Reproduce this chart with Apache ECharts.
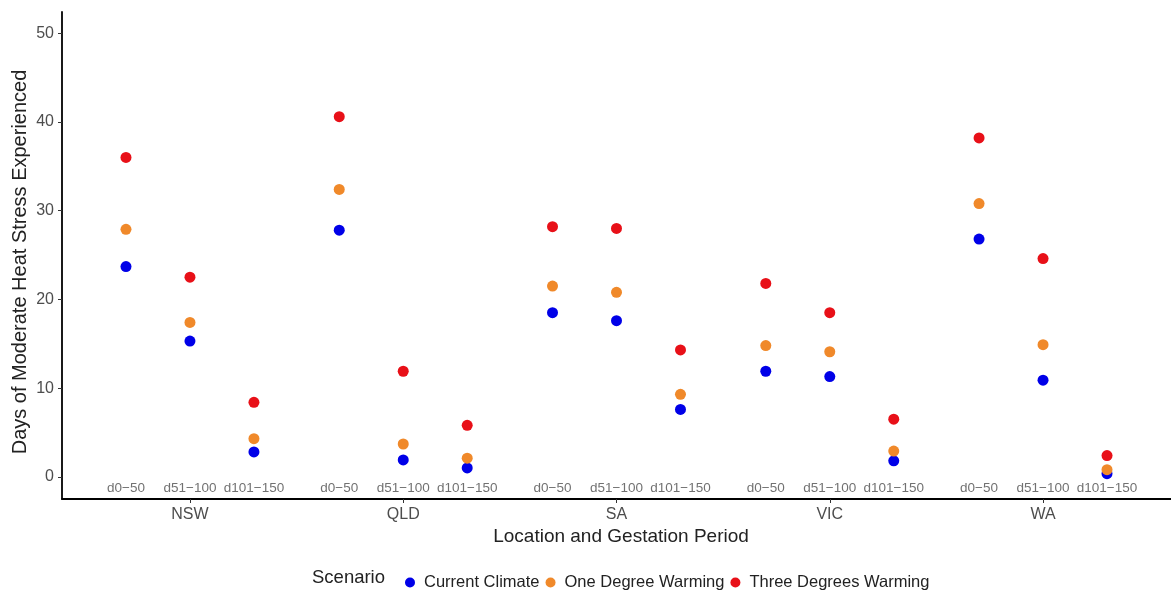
<!DOCTYPE html>
<html>
<head>
<meta charset="utf-8">
<script src="https://cdn.jsdelivr.net/npm/echarts@6/dist/echarts.min.js"></script>
<style>
html,body{margin:0;padding:0;background:#fff;}
#chart{width:1171px;height:593px;}
</style>
</head>
<body>
<div id="chart"></div>
<script>
// ---- data ----
const locations = ['NSW', 'QLD', 'SA', 'VIC', 'WA'];
const periods = ['d0\u221250', 'd51\u2212100', 'd101\u2212150'];
const scenarios = ['Current Climate', 'One Degree Warming', 'Three Degrees Warming'];
// values per location, in order of periods
const currentClimate = [
  [23.7, 15.3, 2.8],   // NSW
  [27.8, 1.9, 1.0],    // QLD
  [18.5, 17.6, 7.6],   // SA
  [11.9, 11.3, 1.8],   // VIC
  [26.8, 10.9, 0.35]   // WA
];
const oneDegree = [
  [27.9, 17.4, 4.3],
  [32.4, 3.7, 2.1],
  [21.5, 20.8, 9.3],
  [14.8, 14.1, 2.9],
  [30.8, 14.9, 0.8]
];
const threeDegrees = [
  [36.0, 22.5, 8.4],
  [40.6, 11.9, 5.8],
  [28.2, 28.0, 14.3],
  [21.8, 18.5, 6.5],
  [38.2, 24.6, 2.4]
];
const yTicks = [0, 10, 20, 30, 40, 50];
const colors = ['#0000e8', '#f0892a', '#e81018'];

// ---- build ----
const dodge = 0.3;
const subLabelY = -1.3;
function posOf(li, pi) { return (li + 1) + (pi - 1) * dodge; }
function toPoints(arr) {
  const out = [];
  arr.forEach((row, li) => row.forEach((v, pi) => out.push([posOf(li, pi), v])));
  return out;
}
const subLabelData = [];
locations.forEach((l, li) => periods.forEach((p, pi) => subLabelData.push({value: [posOf(li, pi), subLabelY], name: p})));

const seriesData = [currentClimate, oneDegree, threeDegrees];
const fontFam = '"Liberation Sans", Arial, sans-serif';

const chart = echarts.init(document.getElementById('chart'));
chart.setOption({
  animation: false,
  textStyle: {fontFamily: fontFam},
  grid: {left: 62, right: 0, top: 12, bottom: 94, containLabel: false},
  xAxis: {
    type: 'value', min: 0.4, max: 5.6,
    splitLine: {show: false},
    axisLine: {show: true, onZero: false, lineStyle: {color: '#000', width: 1.8}},
    axisTick: {show: true, customValues: [1, 2, 3, 4, 5], length: 4, lineStyle: {color: '#333'}},
    axisLabel: {customValues: [1, 2, 3, 4, 5], formatter: v => locations[Math.round(v) - 1] || '',
      color: '#4d4d4d', fontSize: 16, margin: 8, fontFamily: fontFam}
  },
  yAxis: {
    type: 'value', min: -2.5, max: 52.4,
    splitLine: {show: false},
    axisLine: {show: true, onZero: false, lineStyle: {color: '#000', width: 1.8}},
    axisTick: {show: true, customValues: yTicks, length: 4, lineStyle: {color: '#333'}},
    axisLabel: {customValues: yTicks, color: '#4d4d4d', fontSize: 16, margin: 8, fontFamily: fontFam}
  },
  legend: {
    left: 400, top: 569,
    data: scenarios,
    icon: 'circle', itemWidth: 12, itemHeight: 10, itemGap: 6,
    textStyle: {color: '#222', fontSize: 16.5, fontFamily: fontFam, padding: [0, 0, 0, 3]}
  },
  graphic: [
    {type: 'text', left: 312, top: 568,
      style: {text: 'Scenario', fontSize: 18.5, fill: '#222', fontFamily: fontFam}},
    {type: 'text', x: 20, y: 262, rotation: Math.PI / 2,
      style: {text: 'Days of Moderate Heat Stress Experienced', fontSize: 20, fill: '#222',
        fontFamily: fontFam, align: 'center', verticalAlign: 'middle'}},
    {type: 'text', x: 621, y: 537,
      style: {text: 'Location and Gestation Period', fontSize: 19, fill: '#222',
        fontFamily: fontFam, align: 'center', verticalAlign: 'middle'}}
  ],
  series: scenarios.map((s, i) => ({
    name: s, type: 'scatter', symbolSize: 11,
    itemStyle: {color: colors[i], opacity: 1},
    data: toPoints(seriesData[i])
  })).concat([{
    name: 'periods', type: 'scatter', symbolSize: 0, silent: true,
    data: subLabelData,
    label: {show: true, position: 'inside', formatter: p => p.name,
      color: '#4d4d4d', fontSize: 13.5, fontFamily: fontFam}
  }])
});
</script>
</body>
</html>
